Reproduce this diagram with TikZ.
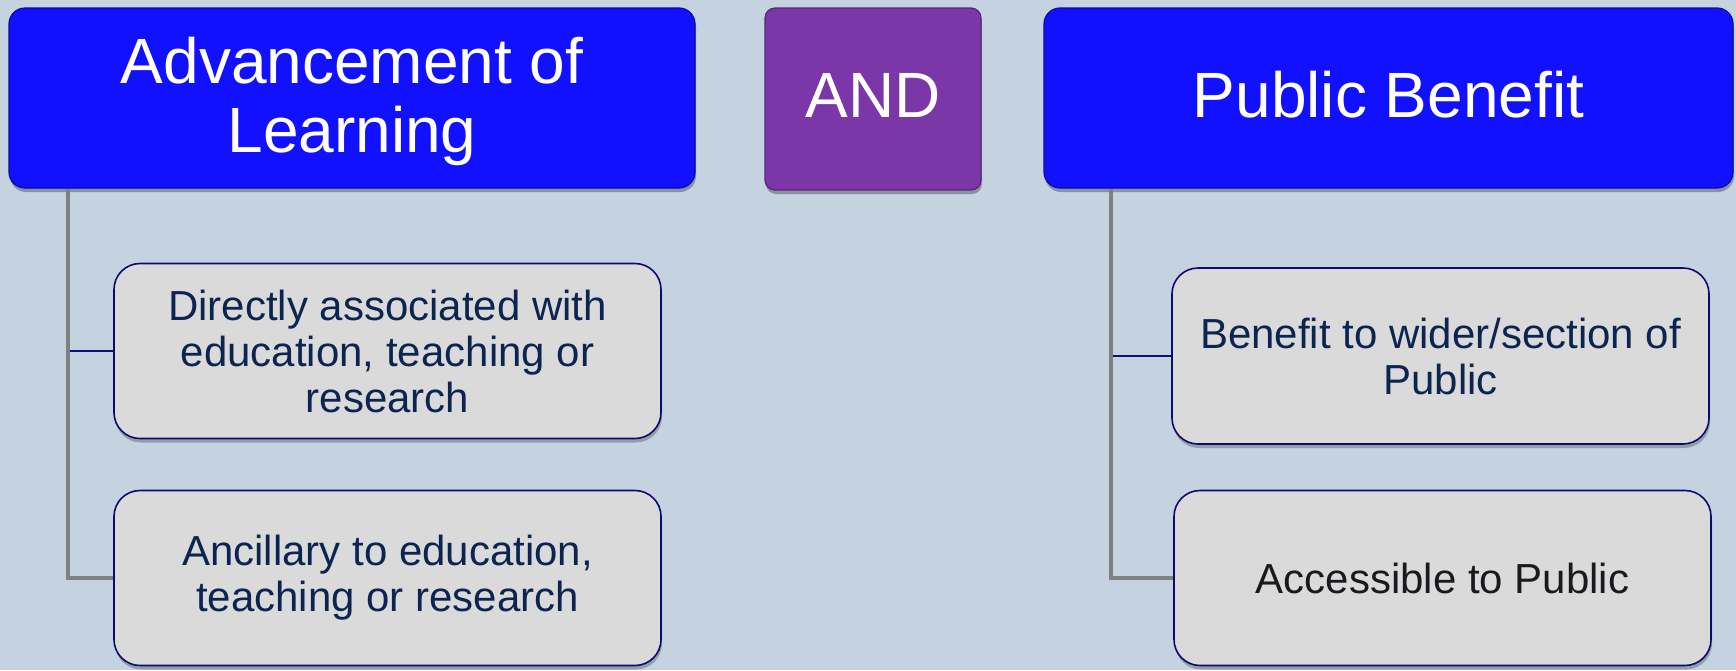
\documentclass[tikz,border=0pt]{standalone}
\usepackage{fontspec}
\setmainfont{Liberation Sans}
\usetikzlibrary{shadows}
\definecolor{bgc}{RGB}{197,211,224}
\definecolor{bluebox}{RGB}{17,17,255}
\definecolor{blueedge}{RGB}{10,10,170}
\definecolor{purplebox}{RGB}{123,54,168}
\definecolor{purpleedge}{RGB}{90,35,125}
\definecolor{childfill}{RGB}{218,218,218}
\definecolor{childedge}{RGB}{12,12,110}
\definecolor{childtext}{RGB}{12,37,80}
\definecolor{darktext}{RGB}{25,25,30}
\definecolor{linkgray}{RGB}{128,128,128}
\definecolor{linknavy}{RGB}{16,16,122}
\tikzset{
  topbox/.style={draw=blueedge, line width=1.2pt, fill=bluebox, rounded corners=16pt,
    text=white, align=center, inner sep=0pt, font=\fontsize{64}{69}\selectfont,
    drop shadow={shadow xshift=1pt, shadow yshift=-4pt, opacity=0.3, fill=black}},
  andbox/.style={draw=purpleedge, line width=1.2pt, fill=purplebox, rounded corners=10pt,
    text=white, align=center, inner sep=0pt, font=\fontsize{64}{66}\selectfont,
    drop shadow={shadow xshift=1pt, shadow yshift=-4pt, opacity=0.3, fill=black}},
  childbox/.style={draw=childedge, line width=1.6pt, fill=childfill, rounded corners=26pt,
    text=childtext, align=center, inner sep=0pt, font=\fontsize{42}{46}\selectfont,
    drop shadow={shadow xshift=1pt, shadow yshift=-4pt, opacity=0.25, fill=black}},
  trunk/.style={draw=linkgray, line width=3.5pt},
  twig/.style={draw=linknavy, line width=1.5pt}
}
\begin{document}
\begin{tikzpicture}[x=1pt,y=-1pt]
\useasboundingbox (0,0) rectangle (1736,670);
\fill[bgc] (0,0) rectangle (1736,670);

\node[topbox, minimum width=686pt, minimum height=180pt] (lb) at (352,98) {\raisebox{-6.5pt}[\height][\depth]{\begin{tabular}{@{}c@{}}Advancement of\\Learning\end{tabular}}};
\node[andbox, minimum width=216pt, minimum height=182pt] (and) at (873,99) {\raisebox{3.5pt}[\height][\depth]{AND}};
\node[topbox, minimum width=689pt, minimum height=180pt] (rb) at (1388.5,98) {\raisebox{3pt}[\height][\depth]{Public Benefit}};

\coordinate (lv) at ([xshift=59.6pt]lb.south west);
\coordinate (rv) at ([xshift=67.5pt]rb.south west);

\node[childbox, minimum width=547pt, minimum height=175pt] (lc1) at (387.5,351) {Directly associated with\\education, teaching or\\research};
\node[childbox, minimum width=547pt, minimum height=175pt] (lc2) at (387.5,578) {Ancillary to education,\\teaching or research};
\node[childbox, minimum width=537pt, minimum height=176pt] (rc1) at (1440.5,356) {Benefit to wider/section of\\Public};
\node[childbox, minimum width=537pt, minimum height=175pt, text=darktext] (rc2) at (1442.5,578) {Accessible to Public};

\draw[twig] (lv |- lc1.west) -- (lc1.west);
\draw[trunk] (lv) |- (lc2.west);
\draw[twig] (rv |- rc1.west) -- (rc1.west);
\draw[trunk] (rv) |- (rc2.west);
\end{tikzpicture}
\end{document}
